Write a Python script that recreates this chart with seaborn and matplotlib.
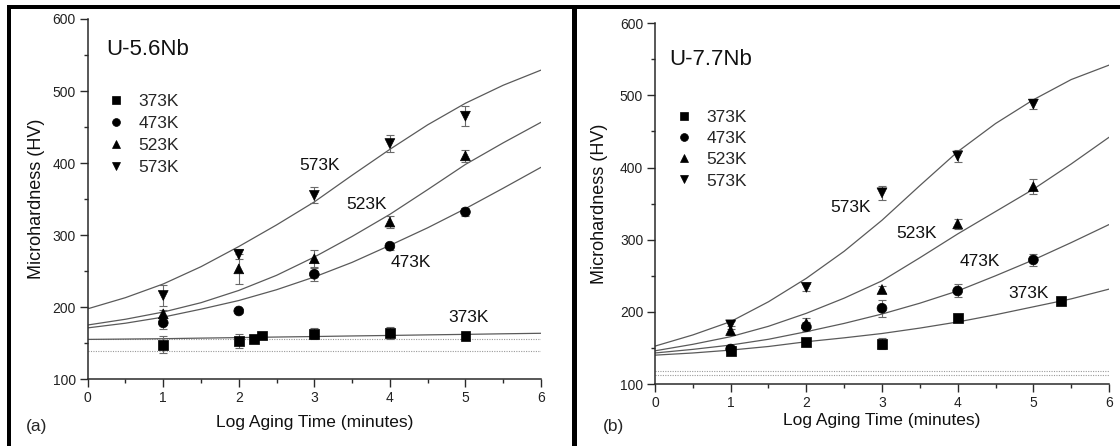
import matplotlib
matplotlib.use("Agg")
import numpy as np
import pandas as pd
import matplotlib.pyplot as plt
import seaborn as sns
from matplotlib.patches import Rectangle
from matplotlib.ticker import MultipleLocator, AutoMinorLocator

# ---------------- data ----------------
temps = ["373K", "473K", "523K", "573K"]
fit_x = [0, 0.5, 1, 1.5, 2, 2.5, 3, 3.5, 4, 4.5, 5, 5.5, 6]

# panel (a) U-5.6Nb : fitted curves
a_fit_373 = [155, 155.5, 156, 156.8, 157.5, 158.3, 159, 159.8, 160.5, 161.3, 162, 162.8, 163.5]
a_fit_473 = [171, 177.5, 186, 197, 209, 224, 241.7, 262, 285.6, 310, 336.6, 365, 394]
a_fit_523 = [175, 183, 193, 206, 223, 244, 269.4, 298, 328.7, 363, 398, 428, 456.5]
a_fit_573 = [197.5, 213, 232, 256, 284, 314, 346, 383, 419, 453, 483, 508, 529]
# panel (a) measurements
a_x_373 = [1, 2, 2.2, 2.31, 3, 4, 5]
a_y_373 = [147.5, 152.5, 156, 160.5, 163, 164, 159.5]
a_e_373 = [12, 10, 3, 3, 8, 8, 4]
a_x = [1, 2, 3, 4, 5]
a_y_473 = [178, 194.5, 245.5, 284.5, 332]
a_e_473 = [8, 3, 9, 5, 6]
a_y_523 = [190.5, 253, 267, 318, 410]
a_e_523 = [6, 21, 12, 8, 8]
a_y_573 = [216, 273, 355, 427, 465]
a_e_573 = [15, 7, 11, 12, 14]
a_ref_lines = [155, 139.5]

# panel (b) U-7.7Nb : fitted curves
b_fit_373 = [140, 143, 147, 152, 158.6, 164, 170, 177.5, 186, 196, 207, 218, 231.5]
b_fit_473 = [143, 148, 154, 162, 172.5, 184, 197, 212, 229, 250, 272, 296, 321]
b_fit_523 = [146, 155, 165.6, 180, 198, 219, 243, 275, 308, 339, 370, 405, 442]
b_fit_573 = [152.5, 168, 186.5, 214, 246.5, 284, 327, 375, 422, 461, 494, 522, 542]
# panel (b) measurements
b_x_373 = [1, 2, 3, 4, 5.36]
b_y_373 = [146, 158, 156, 192, 215]
b_e_373 = [4, 4, 8, 4, 3]
b_x = [1, 2, 3, 4, 5]
b_y_473 = [148.5, 179.5, 205, 229, 272]
b_e_473 = [4, 6, 12, 9, 8]
b_y_523 = [174, 184, 231, 322, 373.5]
b_e_523 = [6, 8, 5, 7, 10]
b_y_573 = [182, 234, 365, 416, 488]
b_e_573 = [6, 5, 10, 8, 7]
b_ref_lines = [118, 112.5]

titles = ["U-5.6Nb", "U-7.7Nb"]
panel_tags = ["(a)", "(b)"]
xlabel = "Log Aging Time (minutes)"
ylabel = "Microhardness (HV)"

# ---------------- style ----------------
sns.set_theme(style="ticks")
plt.rcParams["font.family"] = ["Liberation Sans", "DejaVu Sans"]
markers = {"373K": "s", "473K": "o", "523K": "^", "573K": "v"}
curve_color = "#5a5a5a"
err_color = "#6a6a6a"
spine_color = "#2a2a2a"

fig = plt.figure(figsize=(11.2, 4.46), dpi=100)
ax_a = fig.add_axes([0.0783, 0.1502, 0.4047, 0.8072])
ax_b = fig.add_axes([0.5848, 0.1390, 0.4054, 0.8088])


def build(xs_list, ys_list, es_list):
    rows = []
    for t, xs, ys, es in zip(temps, xs_list, ys_list, es_list):
        for x, y, e in zip(xs, ys, es):
            rows.append({"t": x, "hv": y, "err": e, "temp": t})
    return pd.DataFrame(rows)


panels = [
    dict(ax=ax_a,
         fits=[a_fit_373, a_fit_473, a_fit_523, a_fit_573],
         df=build([a_x_373, a_x, a_x, a_x], [a_y_373, a_y_473, a_y_523, a_y_573],
                  [a_e_373, a_e_473, a_e_523, a_e_573]),
         refs=a_ref_lines,
         labels=[(5.04, 186), (4.28, 262), (3.69, 343), (3.07, 396)],
         title=(0.80, 557),
         leg=(0.043, 0.792), lsp=0.40,
         ylab=-0.095, xlab=-0.10),
    dict(ax=ax_b,
         fits=[b_fit_373, b_fit_473, b_fit_523, b_fit_573],
         df=build([b_x_373, b_x, b_x, b_x], [b_y_373, b_y_473, b_y_523, b_y_573],
                  [b_e_373, b_e_473, b_e_523, b_e_573]),
         refs=b_ref_lines,
         labels=[(4.93, 226), (4.29, 270), (3.45, 309), (2.59, 345)],
         title=(0.73, 550),
         leg=(0.045, 0.759), lsp=0.34,
         ylab=-0.104, xlab=-0.08),
]

for i, p in enumerate(panels):
    ax = p["ax"]
    # reference dotted lines
    for r in p["refs"]:
        sns.lineplot(x=[0, 6], y=[r, r], ax=ax, color="#9a9a9a", lw=0.8,
                     linestyle=(0, (1, 1.2)), zorder=1)
    # fitted curves
    for f in p["fits"]:
        sns.lineplot(x=fit_x, y=f, ax=ax, color=curve_color, lw=0.9, zorder=2)
    # error bars
    df = p["df"]
    ax.errorbar(df["t"], df["hv"], yerr=df["err"], fmt="none", ecolor=err_color,
                elinewidth=0.8, capsize=3, capthick=0.8, zorder=3)
    # points
    sns.scatterplot(data=df, x="t", y="hv", style="temp", style_order=temps,
                    markers=markers, color="black", edgecolor="black", s=50,
                    linewidth=0.5, ax=ax, zorder=4, legend=True)
    handles, labs = ax.get_legend_handles_labels()
    ax.legend(handles, labs, frameon=False, loc="upper left",
              bbox_to_anchor=p["leg"], borderaxespad=0, borderpad=0,
              handlelength=1.0, handletextpad=0.8, labelspacing=p["lsp"],
              fontsize=12.5, markerscale=0.8)

    for t, (lx, ly) in zip(temps, p["labels"]):
        ax.text(lx, ly, t, ha="center", va="center", fontsize=12.5, color="#111111")
    ax.text(p["title"][0], p["title"][1], titles[i], ha="center", va="center",
            fontsize=16, color="#111111")

    ax.set_xlim(0, 6)
    ax.set_ylim(100, 600)
    ax.xaxis.set_major_locator(MultipleLocator(1))
    ax.xaxis.set_minor_locator(AutoMinorLocator(2))
    ax.yaxis.set_major_locator(MultipleLocator(100))
    ax.yaxis.set_minor_locator(AutoMinorLocator(2))
    ax.tick_params(which="major", direction="out", length=6, width=1,
                   color=spine_color, labelsize=10, labelcolor="#222222", pad=2.5)
    ax.tick_params(which="minor", direction="out", length=3, width=1, color=spine_color)
    sns.despine(ax=ax)
    for s in ["left", "bottom"]:
        ax.spines[s].set_color(spine_color)
        ax.spines[s].set_linewidth(1.1)
    ax.set_xlabel(xlabel, fontsize=12.5, color="#111111")
    ax.set_ylabel(ylabel, fontsize=13, color="#111111")
    ax.yaxis.set_label_coords(p["ylab"], 0.5)
    ax.xaxis.set_label_coords(0.5, p["xlab"])

fig.text(37 / 1120, 1 - 427 / 446, panel_tags[0], ha="center", va="center", fontsize=12.5)
fig.text(613 / 1120, 1 - 427 / 446, panel_tags[1], ha="center", va="center", fontsize=12.5)

# black frame lines
for (x0, y0, w, h) in [(7, 5, 1113, 4), (7, 5, 3.5, 441), (572, 5, 5, 441)]:
    fig.patches.append(Rectangle((x0 / 1120, 1 - (y0 + h) / 446), w / 1120, h / 446,
                                 transform=fig.transFigure, color="black", lw=0))

fig.savefig("out.png", dpi=100)
